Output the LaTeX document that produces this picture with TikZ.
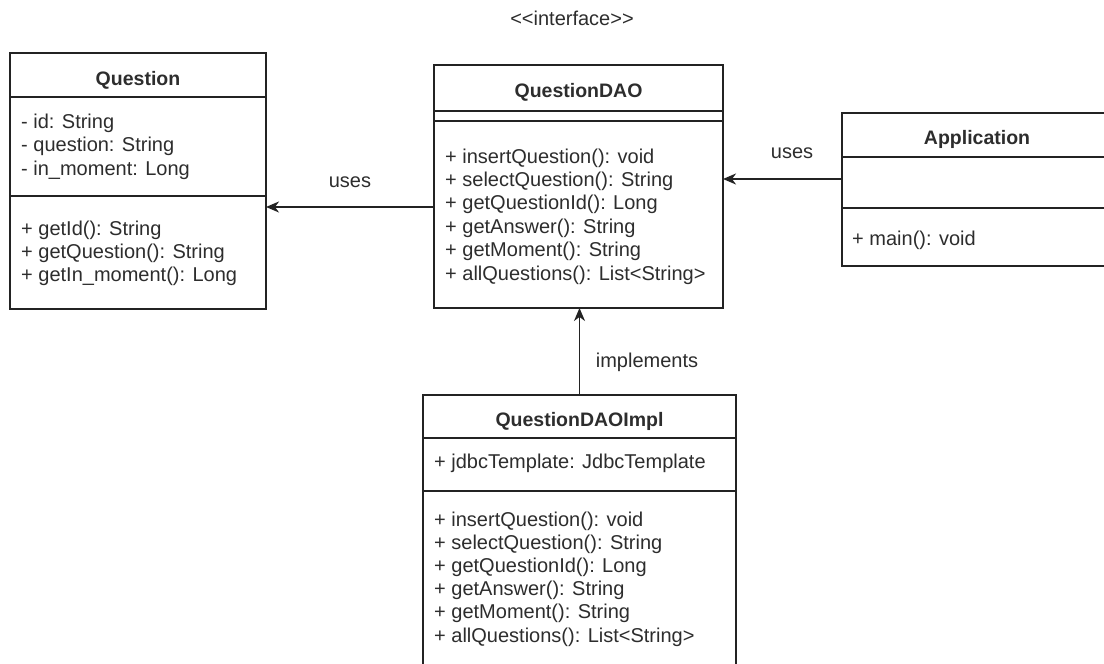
\documentclass[tikz,border=0pt]{standalone}
\usepackage{fontspec}
\setmainfont{Liberation Sans}
\usetikzlibrary{arrows.meta}
\definecolor{ink}{RGB}{35,35,35}
\definecolor{txt}{RGB}{45,45,45}
\tikzset{
  box/.style={draw=ink, line width=1.4pt, fill=white, inner sep=0pt, outer sep=0pt},
  sep/.style={draw=ink, line width=1.4pt},
  ttl/.style={anchor=base, inner sep=0pt, font=\fontsize{19.5}{23}\selectfont\bfseries, text=txt},
  mem/.style={anchor=base west, inner sep=0pt, font=\fontsize{20}{23}\selectfont, text=txt},
  lbl/.style={anchor=base, inner sep=0pt, font=\fontsize{20}{23}\selectfont, text=txt},
  rel/.style={draw=ink, line width=1.4pt, -{Stealth[length=13pt,width=11pt,inset=4pt]}},
}
\begin{document}
\begin{tikzpicture}[x=1pt,y=-1pt]
\useasboundingbox (0,0) rectangle (1104,664);
\fill[white] (0,0) rectangle (1104,664);
\clip (0,0) rectangle (1104,664);

% Question
\node[box, anchor=north west, minimum width=256pt, minimum height=256pt] (question) at (10,53) {};
\draw[sep] (10,97) -- (266,97);
\draw[sep] (10,196) -- (266,196);
\node[ttl] (qt) at (138,85) {Question};
\node[mem] (qa1) at (21,128) {- id: String};
\node[mem] (qa2) at (21,151.5) {- question: String};
\node[mem] (qa3) at (21,175) {- in\_moment: Long};
\node[mem] (qm1) at (21,235) {+ getId(): String};
\node[mem] (qm2) at (21,258) {+ getQuestion(): String};
\node[mem] (qm3) at (21,281) {+ getIn\_moment(): Long};

% QuestionDAO
\node[lbl] (stereo) at (572,25) {<{}<interface>{}>};
\node[box, anchor=north west, minimum width=289pt, minimum height=243pt] (dao) at (434,65) {};
\draw[sep] (434,111) -- (723,111);
\draw[sep] (434,121) -- (723,121);
\node[ttl] (dt) at (578.5,97) {QuestionDAO};
\foreach \t [count=\i from 0] in {%
  {+ insertQuestion(): void},
  {+ selectQuestion(): String},
  {+ getQuestionId(): Long},
  {+ getAnswer(): String},
  {+ getMoment(): String},
  {+ allQuestions(): List<{}String>{}}}
  \node[mem] (dm\i) at (445,163+23.4*\i) {\t};

% Application
\node[box, anchor=north west, minimum width=270pt, minimum height=153pt] (app) at (842,113) {};
\draw[sep] (842,157) -- (1112,157);
\draw[sep] (842,208) -- (1112,208);
\node[ttl] (at) at (977,144) {Application};
\node[mem] (am1) at (852,245) {+ main(): void};

% QuestionDAOImpl
\node[box, anchor=north west, minimum width=313pt, minimum height=280pt] (impl) at (423,395) {};
\draw[sep] (423,438) -- (736,438);
\draw[sep] (423,491) -- (736,491);
\node[ttl] (it) at (579.5,426) {QuestionDAOImpl};
\node[mem] (ia1) at (434,468) {+ jdbcTemplate: JdbcTemplate};
\foreach \t [count=\i from 0] in {%
  {+ insertQuestion(): void},
  {+ selectQuestion(): String},
  {+ getQuestionId(): Long},
  {+ getAnswer(): String},
  {+ getMoment(): String},
  {+ allQuestions(): List<{}String>{}}}
  \node[mem] (im\i) at (434,526+23.2*\i) {\t};

% connectors
\coordinate (yr) at (0,179);
\coordinate (yl) at (0,207);
\draw[rel] (app.west |- yr) -- (dao.east |- yr);
\draw[rel] (dao.west |- yl) -- (question.east |- yl);
\draw[rel] (impl.north) -- (impl.north |- dao.south);
\node[lbl] (u1) at (792,158) {uses};
\node[lbl] (u2) at (350,187) {uses};
\node[lbl] (impl-l) at (647,367) {implements};
\end{tikzpicture}
\end{document}
